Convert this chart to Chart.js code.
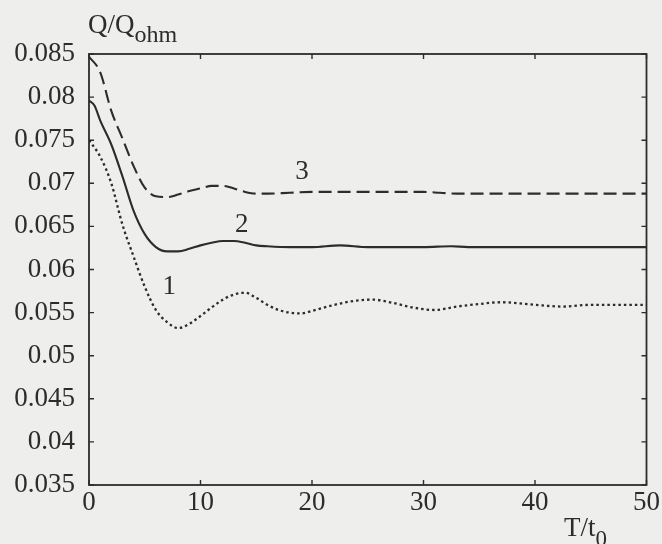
<!DOCTYPE html>
<html>
<head>
<meta charset="utf-8">
<script src="https://cdn.jsdelivr.net/npm/chart.js@4/dist/chart.umd.min.js"></script>
<style>
  html, body { margin: 0; padding: 0; background: #eeeeec; }
  #wrap { width: 662px; height: 544px; position: relative; }
</style>
</head>
<body>
<div id="wrap"><canvas id="chart" width="662" height="544"></canvas></div>
<script>
// --- data ---
const xTicks = [0, 10, 20, 30, 40, 50];
const yTicks = [0.035, 0.04, 0.045, 0.05, 0.055, 0.06, 0.065, 0.07, 0.075, 0.08, 0.085];

// curve 1 (dotted)
const t1 = [0, 1, 2, 3, 4, 5, 6, 7, 8, 9, 10, 11, 12, 13, 14, 15, 16, 17, 18, 19, 20, 22, 24, 25.5, 27, 29, 31, 33, 35, 37, 40, 42.5, 45, 47.5, 50];
const q1 = [0.0750, 0.0731, 0.0700, 0.0652, 0.0615, 0.0580, 0.0553, 0.0539, 0.0532, 0.0537, 0.0546, 0.0556, 0.0565, 0.0571, 0.0573, 0.0567, 0.0559, 0.0553, 0.0550, 0.0549, 0.0552, 0.0559, 0.0564, 0.0565, 0.0562, 0.0556, 0.0553, 0.0557, 0.0560, 0.0562, 0.0559, 0.0557, 0.0559, 0.0559, 0.0559];

// curve 2 (solid)
const t2 = [0, 0.5, 1, 2, 3, 4, 5, 6, 7, 8, 9, 10, 11, 12, 13, 14, 15, 16, 18, 20, 22.5, 25, 30, 32.5, 34, 40, 50];
const q2 = [0.0796, 0.0790, 0.0773, 0.0745, 0.0708, 0.0668, 0.0641, 0.0626, 0.0621, 0.0621, 0.0624, 0.0628, 0.0631, 0.0633, 0.0633, 0.0631, 0.0628, 0.0627, 0.0626, 0.0626, 0.0628, 0.0626, 0.0626, 0.0627, 0.0626, 0.0626, 0.0626];

// curve 3 (dashed)
const t3 = [0, 1, 2, 3, 4, 5, 6, 7, 8, 9, 10, 11, 12, 13, 14, 15, 16, 18, 20, 25, 30, 31.5, 33, 40, 50];
const q3 = [0.0847, 0.0829, 0.0784, 0.0752, 0.0720, 0.0695, 0.0685, 0.0684, 0.0687, 0.0691, 0.0694, 0.0697, 0.0697, 0.0694, 0.0690, 0.0688, 0.0688, 0.0689, 0.0690, 0.0690, 0.0690, 0.0689, 0.0688, 0.0688, 0.0688];

// curve number labels, placed in data units
const curveNames = ['1', '2', '3'];
const nameT = [7.2, 13.7, 19.1];
const nameQ = [0.0580, 0.0652, 0.0713];

const ink = '#2c2c2c';
const serif = '"Liberation Serif", "DejaVu Serif", serif';

function pts(xs, ys) {
    return xs.map((x, i) => ({ x: x, y: ys[i] }));
}

// inward ticks on the box, titles and curve labels
const framePlugin = {
    id: 'frame',
    beforeDraw(chart) {
        const ctx = chart.ctx;
        ctx.save();
        ctx.fillStyle = '#eeeeec';
        ctx.fillRect(0, 0, chart.width, chart.height);
        ctx.restore();
    },
    afterDatasetsDraw(chart) {
        const ctx = chart.ctx;
        const a = chart.chartArea;
        const xs = chart.scales.x;
        const ys = chart.scales.y;
        const len = 5;

        ctx.save();
        ctx.strokeStyle = ink;
        ctx.lineWidth = 1.8;
        ctx.strokeRect(a.left, a.top, a.right - a.left, a.bottom - a.top);

        ctx.lineWidth = 1.4;
        ctx.beginPath();
        xTicks.forEach(v => {
            const px = xs.getPixelForValue(v);
            ctx.moveTo(px, a.bottom); ctx.lineTo(px, a.bottom - len);
            ctx.moveTo(px, a.top); ctx.lineTo(px, a.top + len);
        });
        yTicks.forEach(v => {
            const py = ys.getPixelForValue(v);
            ctx.moveTo(a.left, py); ctx.lineTo(a.left + len, py);
            ctx.moveTo(a.right, py); ctx.lineTo(a.right - len, py);
        });
        ctx.stroke();

        // curve numbers
        ctx.fillStyle = ink;
        ctx.font = '27px ' + serif;
        ctx.textAlign = 'center';
        ctx.textBaseline = 'middle';
        curveNames.forEach((s, i) => {
            ctx.fillText(s, xs.getPixelForValue(nameT[i]), ys.getPixelForValue(nameQ[i]));
        });

        // axis titles with subscripts
        ctx.textAlign = 'left';
        ctx.textBaseline = 'alphabetic';
        ctx.font = '27px ' + serif;
        ctx.fillText('Q/Q', 88, 33);
        let w = ctx.measureText('Q/Q').width;
        ctx.font = '24px ' + serif;
        ctx.fillText('ohm', 88 + w, 42);

        ctx.font = '27px ' + serif;
        ctx.fillText('T/t', 564, 536);
        w = ctx.measureText('T/t').width;
        ctx.font = '23px ' + serif;
        ctx.fillText('0', 564 + w, 546);
        ctx.restore();
    }
};

const lineBase = {
    borderColor: ink,
    borderWidth: 2.1,
    pointRadius: 0,
    fill: false,
    cubicInterpolationMode: 'monotone'
};

new Chart(document.getElementById('chart'), {
    type: 'line',
    data: {
        datasets: [
            Object.assign({ label: '1', data: pts(t1, q1) }, lineBase, { borderDash: [2.5, 3], borderWidth: 2.3 }),
            Object.assign({ label: '2', data: pts(t2, q2) }, lineBase),
            Object.assign({ label: '3', data: pts(t3, q3) }, lineBase, { borderDash: [13, 6] })
        ]
    },
    options: {
        responsive: false,
        animation: false,
        layout: { padding: { top: 54, right: 14, left: 0, bottom: 0 } },
        plugins: {
            legend: { display: false },
            tooltip: { enabled: false }
        },
        scales: {
            x: {
                type: 'linear',
                min: 0,
                max: 50,
                afterFit(scale) { scale.height = 59; },
                afterBuildTicks(scale) { scale.ticks = xTicks.map(v => ({ value: v })); },
                grid: { display: false, drawTicks: false },
                border: { display: false },
                ticks: {
                    color: ink,
                    padding: 2,
                    maxRotation: 0,
                    font: { family: serif, size: 27 }
                }
            },
            y: {
                type: 'linear',
                min: 0.035,
                max: 0.085,
                afterFit(scale) { scale.width = 89; },
                afterBuildTicks(scale) { scale.ticks = yTicks.map(v => ({ value: v })); },
                grid: { display: false, drawTicks: false },
                border: { display: false },
                ticks: {
                    color: ink,
                    padding: 14,
                    font: { family: serif, size: 27 },
                    callback: v => String(+v.toFixed(3))
                }
            }
        }
    },
    plugins: [framePlugin]
});
</script>
</body>
</html>
